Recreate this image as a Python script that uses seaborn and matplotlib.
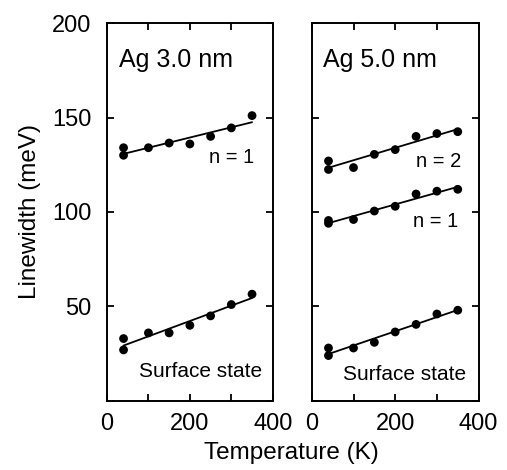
import matplotlib
matplotlib.use('Agg')
import matplotlib.pyplot as plt
import seaborn as sns
import pandas as pd

# temperatures (K) and linewidths (meV)
temp = [40, 40, 100, 150, 200, 250, 300, 350]
ag3_n1 = [134, 130, 134, 136.5, 136, 140, 144.5, 151]
ag3_ss = [33, 27, 36, 36, 40, 45, 51, 56.5]
ag5_n2 = [127, 122.5, 123.5, 130.5, 133, 140, 141.5, 142.5]
ag5_n1 = [95.5, 94, 96, 100.5, 103, 109.5, 111, 112]
ag5_ss = [28, 24, 28, 31, 36.5, 40.5, 46, 48]

sns.set_style('ticks')
plt.rcParams['font.family'] = ['Liberation Sans', 'DejaVu Sans']
plt.rcParams['text.color'] = 'black'
plt.rcParams['xtick.color'] = 'black'
plt.rcParams['ytick.color'] = 'black'
plt.rcParams['axes.edgecolor'] = 'black'

fig = plt.figure(figsize=(5.07, 4.70), dpi=100)
ax1 = fig.add_axes([0.211, 0.147, 0.327, 0.804])
ax2 = fig.add_axes([0.615, 0.147, 0.329, 0.804])

pts = {'s': 40, 'color': 'black', 'edgecolor': 'none', 'alpha': 1}
ln = {'color': 'black', 'lw': 1.3}

for ax, series in [(ax1, [ag3_n1, ag3_ss]), (ax2, [ag5_n2, ag5_n1, ag5_ss])]:
    for y in series:
        df = pd.DataFrame({'T': temp, 'w': y})
        sns.regplot(x='T', y='w', data=df, ax=ax, ci=None,
                    scatter_kws=pts, line_kws=ln)
    ax.set_xlim(0, 400)
    ax.set_ylim(0, 200)
    ax.set_xticks([0, 100, 200, 300, 400])
    ax.set_xticklabels(['0', '', '200', '', '400'])
    ax.set_yticks([0, 50, 100, 150, 200])
    ax.tick_params(direction='in', top=True, right=True, length=5, width=1.3,
                   labelsize=17)
    ax.tick_params(axis='x', pad=9)
    ax.tick_params(axis='y', pad=11)
    ax.set_xlabel('')
    ax.set_ylabel('')
    for sp in ax.spines.values():
        sp.set_linewidth(1.4)

ax1.set_yticklabels(['', '50', '100', '150', '200'])
ax2.set_yticklabels([])

ax1.text(0.075, 0.934, 'Ag 3.0 nm', transform=ax1.transAxes, fontsize=18, va='top')
ax2.text(0.07, 0.934, 'Ag 5.0 nm', transform=ax2.transAxes, fontsize=18, va='top')
ax1.text(0.886, 0.63, 'n = 1', transform=ax1.transAxes, fontsize=14.5, ha='right')
ax1.text(0.934, 0.063, 'Surface state', transform=ax1.transAxes, fontsize=15, ha='right')
ax2.text(0.898, 0.62, 'n = 2', transform=ax2.transAxes, fontsize=14.5, ha='right')
ax2.text(0.88, 0.46, 'n = 1', transform=ax2.transAxes, fontsize=14.5, ha='right')
ax2.text(0.928, 0.055, 'Surface state', transform=ax2.transAxes, fontsize=15, ha='right')

fig.text(0.575, 0.037, 'Temperature (K)', fontsize=17.5, ha='center', va='center')
fig.text(0.06, 0.55, 'Linewidth (meV)', fontsize=17.5, rotation=90,
         ha='center', va='center')

fig.savefig('out.png', dpi=100)
